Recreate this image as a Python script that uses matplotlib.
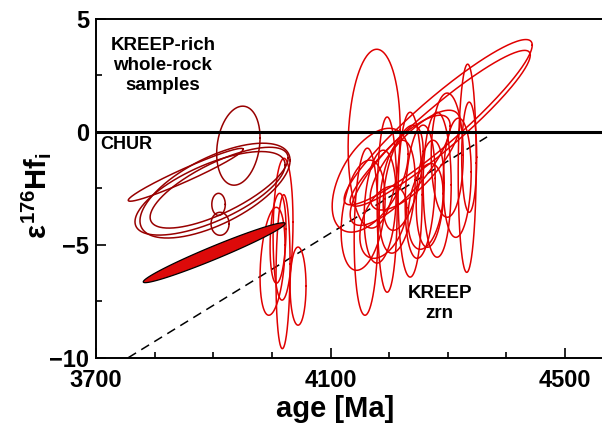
import numpy as np
import matplotlib
matplotlib.use("Agg")
import matplotlib.pyplot as plt
from matplotlib.ticker import MultipleLocator, FixedLocator

plt.rcParams['font.family'] = ['Liberation Sans', 'DejaVu Sans']
plt.rcParams['font.weight'] = 'bold'
plt.rcParams['mathtext.fontset'] = 'custom'
plt.rcParams['mathtext.rm'] = 'Liberation Sans:bold'
plt.rcParams['mathtext.it'] = 'Liberation Sans:bold'
plt.rcParams['mathtext.bf'] = 'Liberation Sans:bold'

# ---- whole-rock (KREEP-rich) ellipses: age, age err, eps, eps err, rho
wr_age = [3942.8, 3853.0, 3903.0, 3910.0, 3894.5, 3909.0, 3911.6]
wr_age_err = [37.0, 98.0, 128.0, 117.7, 128.0, 11.5, 15.4]
wr_eps = [-0.61, -1.90, -2.60, -2.47, -2.72, -3.21, -4.07]
wr_eps_err = [1.75, 1.17, 2.10, 1.79, 1.85, 0.49, 0.51]
wr_rho = [0.2, 0.964, 0.636, 0.73, 0.68, 0.0, 0.0]

# ---- KREEP model (filled)
kr_age, kr_age_err, kr_eps, kr_eps_err, kr_rho = 3901.6, 121.0, -5.35, 1.327, 0.972

# ---- zircon ellipses
zr_age = [4174.4, 4283.6, 4287.0, 4333.1, 4336.5, 4167.6, 4160.8, 4196.6, 4235.8,
          4281.9, 4299.0, 4155.6, 4213.7, 4252.9, 4270.0, 4316.0, 4223.9, 4184.6,
          4218.8, 4244.4, 4001.1, 4019.0, 4010.5, 4044.6, 4019.0, 4190.0, 4262.0]
zr_age_err = [44.4, 160.4, 153.6, 15.4, 12.8, 64.8, 20.5, 17.1, 20.5,
              23.9, 27.3, 37.5, 30.7, 25.6, 23.9, 23.9, 34.1, 27.3,
              85.3, 76.8, 21.3, 12.0, 13.6, 13.6, 17.0, 40.0, 30.0]
zr_eps = [-0.30, 0.43, 0.16, -1.61, -1.12, -2.14, -4.42, -3.22, -2.78,
          -2.34, -1.03, -3.69, -2.87, -2.65, -2.74, -2.03, -2.03, -3.31,
          -1.70, -1.25, -5.73, -6.19, -4.71, -6.83, -4.31, -4.00, -3.30]
zr_eps_err = [3.96, 3.66, 3.45, 4.61, 2.44, 2.30, 3.70, 3.88, 3.65,
              3.21, 2.75, 2.44, 2.50, 2.95, 2.37, 2.64, 2.33, 2.50,
              2.44, 2.21, 2.39, 3.41, 1.99, 1.73, 3.14, 1.60, 1.90]
zr_rho = [0.1, 0.932, 0.938, 0.05, 0.0, 0.5, 0.1, 0.0, 0.0,
          0.0, 0.0, 0.3, 0.3, 0.2, 0.2, 0.1, 0.5, 0.2,
          0.8, 0.75, 0.3, 0.1, 0.2, 0.0, 0.1, 0.4, 0.3]

# ---- reference lines
chur_age = [3700, 4563]
chur_eps = [0, 0]
evo_age = [3755, 4367]
evo_eps = [-10, -0.22]

x_major = [3700, 4100, 4500]

def ellipse(cx, sx, cy, sy, rho, n=240):
    t = np.linspace(0, 2 * np.pi, n)
    x = cx + sx * np.cos(t)
    y = cy + sy * (rho * np.cos(t) + np.sqrt(1 - rho ** 2) * np.sin(t))
    return x, y

fig = plt.figure(figsize=(6.02, 4.28), dpi=100)
ax = fig.add_axes([96 / 602, 1 - 357.7 / 428, 1 - 96 / 602, (357.7 - 19) / 428])

ax.plot(evo_age, evo_eps, color='black', lw=1.1, dashes=(6, 4), zorder=1)

for i in range(len(zr_age)):
    x, y = ellipse(zr_age[i], zr_age_err[i], zr_eps[i], zr_eps_err[i], zr_rho[i])
    ax.plot(x, y, color='#e00000', lw=1.1, zorder=2)

for i in range(len(wr_age)):
    x, y = ellipse(wr_age[i], wr_age_err[i], wr_eps[i], wr_eps_err[i], wr_rho[i])
    ax.plot(x, y, color='#980000', lw=1.1, zorder=3)

x, y = ellipse(kr_age, kr_age_err, kr_eps, kr_eps_err, kr_rho)
ax.fill(x, y, facecolor='#dd0a0a', edgecolor='black', lw=0.9, zorder=4)

ax.plot(chur_age, chur_eps, color='black', lw=2.2, zorder=5)

ax.set_xlim(3700, 4563)
ax.set_ylim(-10, 5)
ax.xaxis.set_major_locator(FixedLocator(x_major))
ax.xaxis.set_minor_locator(MultipleLocator(100))
ax.yaxis.set_major_locator(MultipleLocator(5))
ax.yaxis.set_minor_locator(MultipleLocator(2.5))
ax.tick_params(which='both', direction='in', width=1.2, labelsize=17, top=False, right=False)
ax.tick_params(which='major', length=7, pad=5)
ax.tick_params(axis='x', which='major', pad=8)
ax.tick_params(which='minor', length=4)
for lab in ax.get_xticklabels() + ax.get_yticklabels():
    lab.set_fontweight('bold')
for s in ['left', 'bottom', 'top']:
    ax.spines[s].set_linewidth(1.4)
ax.spines['right'].set_visible(False)

ax.text(3814, 2.95, 'KREEP-rich\nwhole-rock\nsamples', ha='center', va='center',
        fontsize=13.5, fontweight='bold', linespacing=1.25)
ax.text(3707, -0.55, 'CHUR', ha='left', va='center', fontsize=13, fontweight='bold')
ax.text(4286, -7.6, 'KREEP\nzrn', ha='center', va='center',
        fontsize=13.5, fontweight='bold', linespacing=1.25)

fig.text(335 / 602, 1 - 409 / 428, 'age [Ma]', ha='center', va='center',
         fontsize=21, fontweight='bold')
fig.text(36 / 602, 1 - 196 / 428, r'$ε^{176}Hf_{i}$', ha='center', va='center',
         rotation=90, fontsize=21)

fig.savefig('out.png', dpi=100)
